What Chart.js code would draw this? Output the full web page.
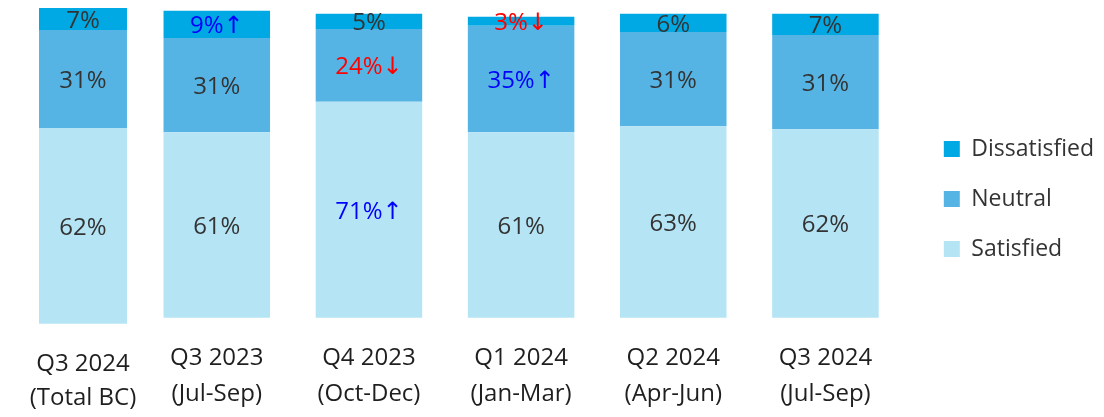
<!DOCTYPE html>
<html>
<head>
<meta charset="utf-8">
<script src="https://cdn.jsdelivr.net/npm/chart.js@4/dist/chart.umd.min.js"></script>
<style>
  html, body { margin: 0; padding: 0; background: #ffffff; overflow: hidden; }
  #wrap { position: relative; width: 1104px; height: 417px; overflow: hidden; }
  #wrap canvas { position: absolute; left: 0; }
  #trendChart { top: -19px; }
  #totalChart { top: 0; }
</style>
</head>
<body>
<div id="wrap">
  <canvas id="trendChart"></canvas>
  <canvas id="totalChart"></canvas>
</div>
<script>
// Survey periods (two-line axis labels)
const periods = [
  ['Q3 2024', '(Total BC)'],
  ['Q3 2023', '(Jul-Sep)'],
  ['Q4 2023', '(Oct-Dec)'],
  ['Q1 2024', '(Jan-Mar)'],
  ['Q2 2024', '(Apr-Jun)'],
  ['Q3 2024', '(Jul-Sep)']
];

// Share of respondents (%)
const satisfied    = [62, 61, 71, 61, 63, 62];
const neutral      = [31, 31, 24, 35, 31, 31];
const dissatisfied = [7, 9, 5, 3, 6, 7];

// Significant change versus the previous period
const satisfiedTrend    = ['', '', '↑', '', '', ''];
const neutralTrend      = ['', '', '↓', '↑', '', ''];
const dissatisfiedTrend = ['', '↑', '', '↓', '', ''];

const seriesNames = ['Satisfied', 'Neutral', 'Dissatisfied'];
const seriesColors = ['#b5e4f5', '#56b4e4', '#00a9e3'];

const FONT = '"Open Sans", "DejaVu Sans", sans-serif';
const TEXT = '#333333';

// Writes each segment's value (plus any trend arrow) in the middle of the segment
const valueLabels = {
  id: 'valueLabels',
  afterDatasetsDraw(chart) {
    const { ctx } = chart;
    ctx.save();
    ctx.font = '24px ' + FONT;
    ctx.textAlign = 'center';
    ctx.textBaseline = 'middle';
    chart.data.datasets.forEach((ds, di) => {
      const meta = chart.getDatasetMeta(di);
      meta.data.forEach((bar, i) => {
        const { x, y, base } = bar.getProps(['x', 'y', 'base'], true);
        const mark = ds.trend[i];
        ctx.fillStyle = mark === '↑' ? '#0000ff' : mark === '↓' ? '#ff0000' : TEXT;
        ctx.fillText(ds.data[i] + '%' + mark, x, (y + base) / 2 + 2);
      });
    });
    ctx.restore();
  }
};

function makeDatasets(from, to) {
  const values = [satisfied, neutral, dissatisfied];
  const trends = [satisfiedTrend, neutralTrend, dissatisfiedTrend];
  return seriesNames.map((name, k) => ({
    label: name,
    data: values[k].slice(from, to),
    trend: trends[k].slice(from, to),
    backgroundColor: seriesColors[k],
    borderWidth: 0,
    clip: false
  }));
}

function xAxis(axisHeight, lineHeight) {
  return {
    stacked: true,
    offset: true,
    grid: { display: false, drawTicks: false },
    border: { display: false },
    ticks: {
      color: '#1f1f1f',
      font: { family: FONT, size: 24, lineHeight: lineHeight },
      padding: 23,
      maxRotation: 0,
      autoSkip: false
    },
    afterFit(scale) { scale.height = axisHeight; }
  };
}

// Empty axis used only to reserve space in the layout
function spacer(position, size) {
  const horizontal = position === 'top' || position === 'bottom';
  return {
    type: horizontal ? 'category' : 'linear',
    position: position,
    display: true,
    grid: { display: false, drawTicks: false },
    border: { display: false },
    ticks: { display: false },
    afterFit(scale) {
      if (horizontal) scale.height = size; else scale.width = size;
    }
  };
}

// Legend width depends on the measured label text, so size the canvas from it
const probe = document.createElement('canvas').getContext('2d');
probe.font = '23px ' + FONT;
const legendTextW = Math.max(...seriesNames.map(n => probe.measureText(n).width));

// Period-by-period chart with the legend on the right
const trendW = Math.round(981.5 + legendTextW);
const trendH = 436;
const trendCanvas = document.getElementById('trendChart');
trendCanvas.width = trendW;
trendCanvas.height = trendH;
trendCanvas.style.width = trendW + 'px';
trendCanvas.style.height = trendH + 'px';

new Chart(trendCanvas, {
  type: 'bar',
  data: { labels: periods.slice(1), datasets: makeDatasets(1, 6) },
  options: {
    responsive: false,
    animation: false,
    devicePixelRatio: 1,
    layout: { padding: { left: 140.7, top: 0, bottom: 0, right: 0 } },
    datasets: { bar: { barPercentage: 0.7, categoryPercentage: 1 } },
    scales: {
      x: xAxis(99.3, 1.49),
      y: { stacked: true, display: false, min: 0, max: 100 },
      topGap: spacer('top', 32.7),
      rightGap: spacer('right', 15.3)
    },
    plugins: {
      legend: {
        position: 'right',
        reverse: true,
        labels: {
          boxWidth: 16,
          boxHeight: 16,
          padding: 27,
          color: '#333333',
          font: { family: FONT, size: 23 }
        }
      },
      tooltip: { enabled: false }
    }
  },
  plugins: [valueLabels]
});

// Overall figure for the latest quarter, drawn as its own bar on the left
const totalCanvas = document.getElementById('totalChart');
totalCanvas.width = 166;
totalCanvas.height = 417;
totalCanvas.style.width = '166px';
totalCanvas.style.height = '417px';

new Chart(totalCanvas, {
  type: 'bar',
  data: { labels: periods.slice(0, 1), datasets: makeDatasets(0, 1) },
  options: {
    responsive: false,
    animation: false,
    devicePixelRatio: 1,
    layout: { padding: { left: 0, top: 8, bottom: 0, right: 0 } },
    datasets: { bar: { barPercentage: 0.53, categoryPercentage: 1 } },
    scales: {
      x: xAxis(93.3, 1.44),
      y: { stacked: true, display: false, min: 0, max: 100 }
    },
    plugins: {
      legend: { display: false },
      tooltip: { enabled: false }
    }
  },
  plugins: [valueLabels]
});
</script>
</body>
</html>
